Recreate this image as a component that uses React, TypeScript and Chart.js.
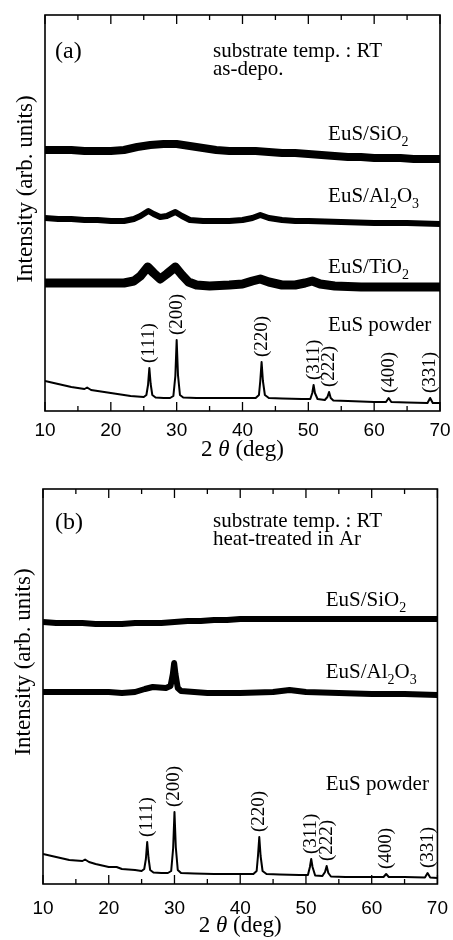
import React, { useEffect, useRef } from "react";
import { Chart, registerables } from "chart.js";

Chart.register(...registerables);

// ---------- Panel (a): as-deposited ----------
const A_SIO2_X = [10, 12, 14, 16, 18, 20, 22, 24, 26, 28, 30, 32, 34, 36, 38, 40, 42, 44, 46, 48, 50, 52, 54, 56, 58, 60, 62, 64, 66, 68, 70];
const A_SIO2_Y = [261, 261, 261, 260, 260, 260, 261, 264, 266, 267, 267, 265, 263, 261, 260, 260, 260, 259, 258, 258, 257, 256, 255, 254, 254, 253, 253, 253, 252, 252, 252];

const A_AL2O3_X = [10, 12, 14, 16, 18, 20, 22, 23.5, 24.5, 25.7, 26.5, 27.5, 28.5, 29.8, 30.8, 32, 34, 36, 38, 40, 41.5, 42.7, 44, 46, 48, 50, 55, 60, 65, 70];
const A_AL2O3_Y = [193, 192, 192, 191, 191, 190, 190, 192, 195, 200, 197, 194, 195, 199, 195, 191, 190, 190, 190, 191, 193, 196, 193, 191, 190, 190, 189, 188, 188, 187];

const A_TIO2_X = [10, 12, 14, 16, 18, 20, 22, 23.5, 24.5, 25.6, 26.5, 27.5, 28.5, 29.8, 30.8, 31.8, 33, 35, 38, 40, 41.5, 42.7, 44, 46, 48, 49.5, 50.6, 51.8, 54, 58, 62, 66, 70];
const A_TIO2_Y = [128, 128, 128, 128, 128, 128, 128, 130, 135, 144, 138, 132, 137, 144, 136, 129, 126, 125, 126, 127, 130, 132, 129, 126, 126, 128, 130, 127, 125, 124, 124, 124, 124];

const A_POWDER_X = [10, 11, 12, 13, 14, 15, 16, 16.4, 17, 18, 19, 20, 21, 22, 23, 24, 25, 25.4, 25.65, 25.85, 26.05, 26.3, 26.8, 28, 29, 29.5, 29.8, 30, 30.2, 30.5, 31, 33, 36, 40, 42, 42.5, 42.7, 42.9, 43.1, 43.4, 44, 46, 49, 50.3, 50.6, 50.8, 51, 51.4, 52.5, 52.9, 53.15, 53.4, 53.8, 56, 60, 61.8, 62.2, 62.6, 65, 68.1, 68.5, 68.9, 70];
const A_POWDER_Y = [30, 28.5, 27, 25.5, 24, 23, 22, 23.5, 21, 20, 19, 18, 17, 16, 15, 14.5, 14, 16, 26, 43, 27, 16, 13.5, 13, 13, 15, 35, 71, 36, 16, 13.5, 13, 13, 13, 13, 16, 30, 49, 30, 16, 13, 12.5, 12, 12, 18, 26, 18, 12, 11, 14, 19, 13, 10.5, 10, 9, 9, 13, 9, 8.5, 8, 13, 8, 8];

// ---------- Panel (b): heat-treated in Ar ----------
const B_SIO2_X = [10, 12, 14, 16, 18, 20, 22, 24, 26, 28, 30, 32, 34, 36, 38, 40, 44, 48, 52, 56, 60, 64, 70];
const B_SIO2_Y = [262, 261, 261, 261, 260, 260, 260, 261, 261, 261, 262, 263, 263, 264, 264, 265, 265, 265, 265, 265, 265, 265, 265];

const B_AL2O3_X = [10, 14, 18, 20, 22, 24, 25.5, 26.7, 28.7, 29.4, 29.75, 29.95, 30.15, 30.5, 31, 35, 40, 45, 47.5, 50, 55, 60, 65, 70];
const B_AL2O3_Y = [192, 192, 192, 192, 191, 192, 195, 197, 196, 198, 210, 221, 210, 196, 193, 191, 191, 192, 194, 192, 191, 190, 190, 189];

const B_POWDER_X = [10, 11, 12, 13, 14, 15, 16, 16.4, 17, 18, 19, 20, 21.2, 22, 23, 24, 25, 25.4, 25.65, 25.85, 26.05, 26.3, 26.8, 28, 29, 29.5, 29.8, 30, 30.2, 30.5, 31, 33, 36, 40, 42, 42.5, 42.7, 42.9, 43.1, 43.4, 44, 46, 49, 50.3, 50.6, 50.8, 51, 51.4, 52.5, 52.9, 53.15, 53.4, 53.8, 56, 60, 61.8, 62.2, 62.6, 65, 68.1, 68.5, 68.9, 70];
const B_POWDER_Y = [30, 28.5, 27, 25.5, 24, 23.5, 23, 24.5, 22, 20, 18.5, 17, 17, 15, 14.5, 14, 13, 15, 25, 42, 26, 14, 11.5, 11, 11, 13, 36, 72, 37, 14, 11, 10.5, 10, 10, 10, 13, 28, 47, 28, 13, 10, 9.5, 9, 9, 17, 25, 17, 8.5, 8, 12, 18, 11, 7.5, 7, 7, 7, 10, 7, 7, 6.5, 11, 6.5, 6];

// ---------- Peak indexing ----------
const PEAK_HKL = ["(111)", "(200)", "(220)", "(311)", "(222)", "(400)", "(331)"];
const PEAK_POS = [25.85, 30, 42.9, 50.8, 53.15, 62.2, 68.5];

const X_TICKS = [10, 20, 30, 40, 50, 60, 70];

const SERIF = '"Liberation Serif", "Times New Roman", serif';
const SANS = '"Liberation Sans", Arial, sans-serif';

type Seg = { t: string; sub?: boolean };
type SeriesLabel = { segs: Seg[]; x: number; y: number };
type Series = { xs: number[]; ys: number[]; lw: number; powder?: boolean };

type PanelCfg = {
  top: number;
  height: number;
  padLeft: number;
  padRight: number;
  padTop: number;
  axisHeight: number;
  tickPad: number;
  yMax: number;
  series: Series[];
  labels: SeriesLabel[];
  tag: string;
  tagDx: number;
  tagDy: number;
  header: string[];
  headerDx: number;
  headerDy: number;
  yTitleDy: number;
  xTitleDy: number;
};

const LABEL_X = 53.0;

const PANEL_A: PanelCfg = {
  top: 0,
  height: 470,
  padLeft: 45,
  padRight: 13,
  padTop: 15,
  axisHeight: 59,
  tickPad: 0,
  yMax: 396,
  series: [
    { xs: A_SIO2_X, ys: A_SIO2_Y, lw: 8 },
    { xs: A_AL2O3_X, ys: A_AL2O3_Y, lw: 6 },
    { xs: A_TIO2_X, ys: A_TIO2_Y, lw: 9 },
    { xs: A_POWDER_X, ys: A_POWDER_Y, lw: 2, powder: true },
  ],
  labels: [
    { segs: [{ t: "EuS/SiO" }, { t: "2", sub: true }], x: LABEL_X, y: 271 },
    { segs: [{ t: "EuS/Al" }, { t: "2", sub: true }, { t: "O" }, { t: "3", sub: true }], x: LABEL_X, y: 209 },
    { segs: [{ t: "EuS/TiO" }, { t: "2", sub: true }], x: LABEL_X, y: 138 },
    { segs: [{ t: "EuS powder" }], x: LABEL_X, y: 80 },
  ],
  tag: "(a)",
  tagDx: 10,
  tagDy: 43,
  header: ["substrate temp. : RT", "as-depo."],
  headerDx: 168,
  headerDy: 42,
  yTitleDy: 174,
  xTitleDy: 39,
};

const PANEL_B: PanelCfg = {
  top: 470,
  height: 470,
  padLeft: 43,
  padRight: 14,
  padTop: 19,
  axisHeight: 56,
  tickPad: 5,
  yMax: 395,
  series: [
    { xs: B_SIO2_X, ys: B_SIO2_Y, lw: 6 },
    { xs: B_AL2O3_X, ys: B_AL2O3_Y, lw: 6 },
    { xs: B_POWDER_X, ys: B_POWDER_Y, lw: 2, powder: true },
  ],
  labels: [
    { segs: [{ t: "EuS/SiO" }, { t: "2", sub: true }], x: LABEL_X, y: 278 },
    { segs: [{ t: "EuS/Al" }, { t: "2", sub: true }, { t: "O" }, { t: "3", sub: true }], x: LABEL_X, y: 206 },
    { segs: [{ t: "EuS powder" }], x: LABEL_X, y: 94 },
  ],
  tag: "(b)",
  tagDx: 12,
  tagDy: 40,
  header: ["substrate temp. : RT", "heat-treated in Ar"],
  headerDx: 170,
  headerDy: 38,
  yTitleDy: 173,
  xTitleDy: 42,
};

function drawSegs(ctx: CanvasRenderingContext2D, segs: Seg[], x: number, y: number, size: number) {
  let cx = x;
  for (const s of segs) {
    const fs = s.sub ? Math.round(size * 0.68) : size;
    ctx.font = `${fs}px ${SERIF}`;
    ctx.fillText(s.t, cx, s.sub ? y + size * 0.27 : y);
    cx += ctx.measureText(s.t).width;
  }
}

function makeDecor(cfg: PanelCfg) {
  return {
    id: "decor",
    afterDraw(chart: any) {
      const ctx: CanvasRenderingContext2D = chart.ctx;
      const ca = chart.chartArea;
      const xs = chart.scales.x;
      const ys = chart.scales.y;
      ctx.save();
      ctx.strokeStyle = "#000";
      ctx.fillStyle = "#000";
      ctx.lineWidth = 1.6;
      ctx.strokeRect(ca.left, ca.top, ca.right - ca.left, ca.bottom - ca.top);
      // inside ticks (major every 10, minor every 5)
      ctx.lineWidth = 1.3;
      for (let v = 10; v <= 70; v += 5) {
        const px = xs.getPixelForValue(v);
        const len = v % 10 === 0 ? 9 : 5;
        ctx.beginPath();
        ctx.moveTo(px, ca.bottom);
        ctx.lineTo(px, ca.bottom - len);
        ctx.moveTo(px, ca.top);
        ctx.lineTo(px, ca.top + len);
        ctx.stroke();
      }
      // series labels
      ctx.textBaseline = "alphabetic";
      ctx.textAlign = "left";
      for (const l of cfg.labels) {
        drawSegs(ctx, l.segs, xs.getPixelForValue(l.x), ys.getPixelForValue(l.y), 21);
      }
      // header
      ctx.font = `24px ${SERIF}`;
      ctx.fillText(cfg.tag, ca.left + cfg.tagDx, ca.top + cfg.tagDy);
      ctx.font = `21px ${SERIF}`;
      cfg.header.forEach((h, i) => {
        ctx.fillText(h, ca.left + cfg.headerDx, ca.top + cfg.headerDy + i * 18);
      });
      // peak labels
      const powder = cfg.series.find((s) => s.powder)!;
      ctx.font = `19px ${SERIF}`;
      ctx.textBaseline = "middle";
      PEAK_POS.forEach((p, i) => {
        let best = 0;
        powder.xs.forEach((xv, j) => {
          if (Math.abs(xv - p) < 0.3) best = Math.max(best, powder.ys[j]);
        });
        const px = xs.getPixelForValue(p);
        const py = ys.getPixelForValue(best) - 5;
        ctx.save();
        ctx.translate(px, py);
        ctx.rotate(-Math.PI / 2);
        ctx.textAlign = "left";
        ctx.fillText(PEAK_HKL[i], 0, 0);
        ctx.restore();
      });
      // y title
      ctx.save();
      ctx.translate(ca.left - 19, ca.top + cfg.yTitleDy);
      ctx.rotate(-Math.PI / 2);
      ctx.textAlign = "center";
      ctx.textBaseline = "middle";
      ctx.font = `23px ${SERIF}`;
      ctx.fillText("Intensity (arb. units)", 0, 0);
      ctx.restore();
      // x title "2 θ (deg)" with italic theta
      const parts: { t: string; it?: boolean }[] = [{ t: "2 " }, { t: "θ", it: true }, { t: " (deg)" }];
      let total = 0;
      for (const p of parts) {
        ctx.font = `${p.it ? "italic " : ""}23px ${SERIF}`;
        total += ctx.measureText(p.t).width;
      }
      let cx = (ca.left + ca.right) / 2 - total / 2;
      const ty = ca.bottom + cfg.xTitleDy;
      ctx.textAlign = "left";
      ctx.textBaseline = "middle";
      for (const p of parts) {
        ctx.font = `${p.it ? "italic " : ""}23px ${SERIF}`;
        ctx.fillText(p.t, cx, ty);
        cx += ctx.measureText(p.t).width;
      }
      ctx.restore();
    },
  };
}

function Panel({ cfg }: { cfg: PanelCfg }) {
  const ref = useRef<HTMLCanvasElement | null>(null);
  useEffect(() => {
    if (!ref.current) return;
    const chart = new Chart(ref.current, {
      type: "line",
      data: {
        datasets: cfg.series.map((s) => ({
          data: s.xs.map((x, i) => ({ x, y: s.ys[i] })),
          borderColor: "#000",
          borderWidth: s.lw,
          pointRadius: 0,
          tension: 0,
          fill: false,
          borderJoinStyle: "round" as const,
        })),
      },
      options: {
        responsive: false,
        animation: false,
        events: [],
        layout: { padding: { left: cfg.padLeft, right: cfg.padRight, top: cfg.padTop, bottom: 0 } },
        plugins: { legend: { display: false }, tooltip: { enabled: false }, title: { display: false } },
        scales: {
          x: {
            type: "linear",
            min: 10,
            max: 70,
            grid: { display: false },
            border: { display: false },
            afterFit: (scale: any) => {
              scale.height = cfg.axisHeight;
            },
            afterBuildTicks: (scale: any) => {
              scale.ticks = X_TICKS.map((v) => ({ value: v }));
            },
            ticks: {
              autoSkip: false,
              maxRotation: 0,
              padding: cfg.tickPad,
              color: "#000",
              font: { family: SANS, size: 19 },
            },
          },
          y: { type: "linear", display: false, min: 0, max: cfg.yMax },
        },
      },
      plugins: [makeDecor(cfg)],
    });
    return () => chart.destroy();
  }, [cfg]);
  return (
    <canvas
      ref={ref}
      width={453}
      height={cfg.height}
      style={{ position: "absolute", left: 0, top: cfg.top, width: 453, height: cfg.height }}
    />
  );
}

export default function App() {
  return (
    <div style={{ position: "absolute", left: 0, top: 0, width: 453, height: 940, background: "#fff" }}>
      <Panel cfg={PANEL_A} />
      <Panel cfg={PANEL_B} />
    </div>
  );
}
